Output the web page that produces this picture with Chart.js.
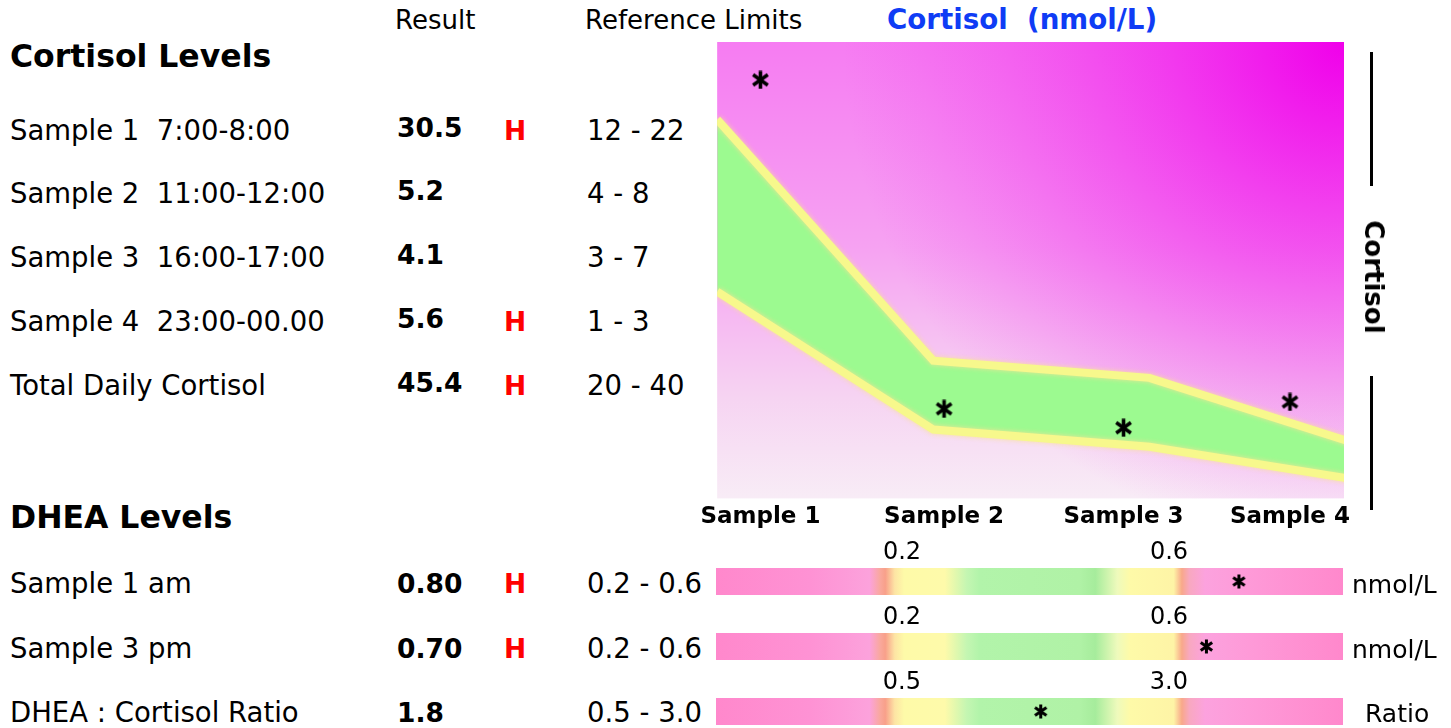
<!DOCTYPE html>
<html>
<head>
<meta charset="utf-8">
<script src="https://cdn.jsdelivr.net/npm/chart.js@4.4.1/dist/chart.umd.min.js"></script>
<style>
  body { margin: 0; background: #fff; font-family: "DejaVu Sans", Verdana, sans-serif; color: #000; }
  #page { position: relative; width: 1451px; height: 728px; overflow: hidden; }
  .t { position: absolute; white-space: pre; line-height: 1; }
  .b { font-weight: bold; }
  canvas { position: absolute; }
  .rule { position: absolute; left: 1370px; width: 3px; background: #000; }
  #sideTitle { position: absolute; left: 1374px; top: 277px; font-weight: bold; font-size: 26px; line-height: 1;
               white-space: pre; transform: translate(-50%, -50%) rotate(90deg); }
</style>
</head>
<body>
<div id="page">
  <canvas id="cortisolChart" style="left:694px;top:42px" width="670" height="494"></canvas>
  <canvas id="dhea0" style="left:706px;top:536px" width="647" height="59"></canvas>
  <canvas id="dhea1" style="left:706px;top:601px" width="647" height="59"></canvas>
  <canvas id="dhea2" style="left:706px;top:666px" width="647" height="59"></canvas>
  <div class="rule" style="top:52px;height:134px"></div>
  <div class="rule" style="top:376px;height:134px"></div>
  <div id="sideTitle">Cortisol</div>
</div>
<script>
// cortisol table + chart
const cortisolRows = ['Sample 1  7:00-8:00', 'Sample 2  11:00-12:00', 'Sample 3  16:00-17:00', 'Sample 4  23:00-00.00', 'Total Daily Cortisol'];
const cortisolResults = [30.5, 5.2, 4.1, 5.6, 45.4];
const cortisolLow = [12, 4, 3, 1, 20];
const cortisolHigh = [22, 8, 7, 3, 40];
const samples = ['Sample 1', 'Sample 2', 'Sample 3', 'Sample 4'];
// where each sample sits on the chart's x axis (band corners are at 0..3)
const sampleAt = [0.2, 1.05, 1.88, 2.65];
const offScaleAt = 24.3;   // values above the axis are pinned here

// DHEA table + bars
const dheaRows = ['Sample 1 am', 'Sample 3 pm', 'DHEA : Cortisol Ratio'];
const dheaResults = [0.80, 0.70, 1.8];
const dheaDecimals = [2, 2, 1];
const dheaLow = [0.2, 0.2, 0.5];
const dheaHigh = [0.6, 0.6, 3.0];
const dheaUnits = ['nmol/L', 'nmol/L', 'Ratio'];

const page = document.getElementById('page');

function text(str, x, cy, size, bold, color) {
    const d = document.createElement('div');
    d.className = 't' + (bold ? ' b' : '');
    d.style.left = x + 'px';
    d.style.top = (cy - size / 2) + 'px';
    d.style.fontSize = size + 'px';
    if (color) d.style.color = color;
    d.textContent = str;
    page.appendChild(d);
}

text('Result', 395, 20, 26);
text('Reference Limits', 585, 20, 26);
text('Cortisol  (nmol/L)', 887, 20, 27.7, true, '#0f3cf5');
text('Cortisol Levels', 10, 57, 31.5, true);
text('DHEA Levels', 10, 518, 31.5, true);

const cortisolY = [131, 194, 258, 322, 386];
cortisolRows.forEach((row, i) => {
    text(row, 10, cortisolY[i], 27.5);
    text(cortisolResults[i].toFixed(1), 397, cortisolY[i] - 3, 26.5, true);
    if (cortisolResults[i] > cortisolHigh[i]) text('H', 504, cortisolY[i], 26.5, true, '#ff0000');
    text(cortisolLow[i] + ' - ' + cortisolHigh[i], 587, cortisolY[i], 27.5);
});

const dheaY = [584, 649, 713];
dheaRows.forEach((row, i) => {
    text(row, 10, dheaY[i], 27.5);
    text(dheaResults[i].toFixed(dheaDecimals[i]), 397, dheaY[i], 26.5, true);
    if (dheaResults[i] > dheaHigh[i]) text('H', 504, dheaY[i], 26.5, true, '#ff0000');
    text(dheaLow[i].toFixed(1) + ' - ' + dheaHigh[i].toFixed(1), 587, dheaY[i], 27.5);
    text(dheaUnits[i], i === 2 ? 1365 : 1352, dheaY[i], 25);
});

// asterisk marker
function makeStar(size, lw) {
    const c = document.createElement('canvas');
    c.width = c.height = size;
    const g = c.getContext('2d');
    g.strokeStyle = '#000';
    g.lineWidth = lw;
    const r = size / 2 - 0.5, m = size / 2;
    [90, 35, -35].forEach(deg => {
        const a = deg * Math.PI / 180;
        g.beginPath();
        g.moveTo(m - r * Math.cos(a), m - r * Math.sin(a));
        g.lineTo(m + r * Math.cos(a), m + r * Math.sin(a));
        g.stroke();
    });
    return c;
}

const cortisolBackground = {
    id: 'cortisolBackground',
    beforeDraw(chart) {
        const { ctx, chartArea: a } = chart;
        ctx.save();
        const v = ctx.createLinearGradient(0, a.top, 0, a.bottom);
        v.addColorStop(0, '#f67cf2');
        v.addColorStop(0.45, '#f6a2f2');
        v.addColorStop(0.78, '#f6d4f2');
        v.addColorStop(1, '#f8ecf6');
        ctx.fillStyle = v;
        ctx.fillRect(a.left, a.top, a.width, a.height);
        const r = ctx.createRadialGradient(a.right, a.top, 0, a.right, a.top, a.width * 0.8);
        r.addColorStop(0, 'rgba(240,0,234,1)');
        r.addColorStop(0.35, 'rgba(240,20,236,0.65)');
        r.addColorStop(1, 'rgba(240,60,236,0)');
        ctx.fillStyle = r;
        ctx.fillRect(a.left, a.top, a.width, a.height);
        ctx.restore();
    }
};

const bandGlow = {
    id: 'bandGlow',
    beforeDatasetDraw(chart, args) {
        if (args.index === 0) return;
        chart.ctx.save();
        chart.ctx.shadowColor = 'rgba(250,225,150,0.9)';
        chart.ctx.shadowBlur = 5;
    },
    afterDatasetDraw(chart, args) {
        if (args.index === 0) return;
        chart.ctx.restore();
    }
};

new Chart(document.getElementById('cortisolChart'), {
    type: 'line',
    data: {
        datasets: [
            {
                label: 'Result',
                data: samples.map((s, i) => ({ x: sampleAt[i], y: Math.min(cortisolResults[i], offScaleAt) })),
                showLine: false,
                pointStyle: makeStar(19, 3.6),
                pointRadius: 10
            },
            {
                label: 'Upper limit',
                data: samples.map((s, i) => ({ x: i, y: cortisolHigh[i] })),
                borderColor: '#f7f88c',
                borderWidth: 8,
                backgroundColor: '#9cfa90',
                fill: '+1',
                pointRadius: 0,
                tension: 0,
                clip: 0
            },
            {
                label: 'Lower limit',
                data: samples.map((s, i) => ({ x: i, y: cortisolLow[i] })),
                borderColor: '#f7f88c',
                borderWidth: 8,
                fill: false,
                pointRadius: 0,
                tension: 0,
                clip: 0
            }
        ]
    },
    options: {
        responsive: false,
        animation: false,
        events: [],
        layout: { autoPadding: false, padding: { left: 20, right: 20, top: 0, bottom: 0 } },
        plugins: {
            legend: { display: false },
            tooltip: { enabled: false },
            filler: { drawTime: 'beforeDatasetsDraw' }
        },
        scales: {
            x: {
                type: 'linear',
                min: 0,
                max: 2.9,
                grid: { display: false, drawTicks: false },
                border: { display: false },
                afterBuildTicks: axis => { axis.ticks = sampleAt.map(v => ({ value: v })); },
                ticks: {
                    padding: 5,
                    maxRotation: 0,
                    autoSkip: false,
                    color: '#000',
                    font: { family: 'DejaVu Sans', size: 23, weight: 'bold' },
                    callback: (v, i) => samples[i]
                }
            },
            y: { display: false, min: 0, max: 26.5 }
        }
    },
    plugins: [cortisolBackground, bandGlow]
});

// DHEA range bars
const barStops = [
    [0, '#ff88cc'], [0.15, '#fe92d4'], [0.245, '#fca2dc'], [0.262, '#f9a89c'], [0.27, '#f8a08a'],
    [0.285, '#fde4a4'], [0.30, '#fefaa8'], [0.365, '#fefaaa'], [0.40, '#c4f6b2'], [0.42, '#b2f4aa'],
    [0.58, '#b0f2a6'], [0.605, '#a6ec9c'], [0.64, '#eefabc'], [0.66, '#fefaa8'], [0.73, '#fef4a6'],
    [0.743, '#f8a88a'], [0.755, '#f8a8c0'], [0.78, '#fca2de'], [0.85, '#fe9ad8'], [1, '#ff88cc']
];

const barBackground = {
    id: 'barBackground',
    beforeDatasetsDraw(chart) {
        const { ctx, chartArea: a } = chart;
        const g = ctx.createLinearGradient(a.left, 0, a.right, 0);
        barStops.forEach(s => g.addColorStop(s[0], s[1]));
        ctx.save();
        ctx.fillStyle = g;
        ctx.fillRect(a.left, a.top, a.width, a.height);
        ctx.restore();
    }
};

const barStar = makeStar(15, 3);
dheaRows.forEach((row, i) => {
    const isRatio = i === 2;
    new Chart(document.getElementById('dhea' + i), {
        type: 'scatter',
        data: {
            datasets: [{
                label: row,
                data: [{ x: dheaResults[i], y: 0.5 }],
                pointStyle: barStar,
                pointRadius: 8
            }]
        },
        options: {
            responsive: false,
            animation: false,
            events: [],
            layout: { autoPadding: false, padding: { left: 10, right: 10, top: 5, bottom: 0 } },
            plugins: { legend: { display: false }, tooltip: { enabled: false } },
            scales: {
                x: {
                    type: isRatio ? 'linear' : 'logarithmic',
                    position: 'top',
                    min: isRatio ? -1.24 : 0.093,
                    max: isRatio ? 4.63 : 1.228,
                    grid: { display: false, drawTicks: false },
                    border: { display: false },
                    afterBuildTicks: axis => { axis.ticks = [{ value: dheaLow[i] }, { value: dheaHigh[i] }]; },
                    ticks: {
                        padding: 3,
                        maxRotation: 0,
                        autoSkip: false,
                        color: '#000',
                        font: { family: 'DejaVu Sans', size: 24, lineHeight: 1 },
                        callback: v => Number(v).toFixed(1)
                    }
                },
                y: { display: false, min: 0, max: 1 }
            }
        },
        plugins: [barBackground]
    });
});
</script>
</body>
</html>
